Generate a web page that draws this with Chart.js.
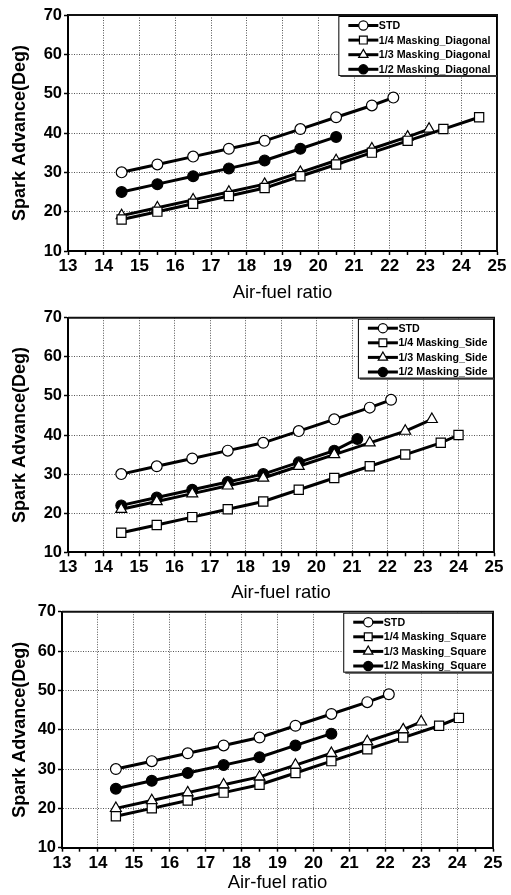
<!DOCTYPE html>
<html>
<head>
<meta charset="utf-8">
<script src="https://cdn.jsdelivr.net/npm/chart.js@4.4.1/dist/chart.umd.min.js"></script>
<style>
  html, body { margin: 0; padding: 0; background: #fff; }
  #wrap { position: relative; width: 511px; height: 895px; overflow: hidden; }
  canvas { position: absolute; left: 0; }
</style>
</head>
<body>
<div id="wrap">
  <canvas id="c1" width="511" height="305" style="top:0px"></canvas>
  <canvas id="c2" width="511" height="310" style="top:295px"></canvas>
  <canvas id="c3" width="511" height="305" style="top:590px"></canvas>
</div>
<script>
// common axis ticks
const xTicks = [13, 14, 15, 16, 17, 18, 19, 20, 21, 22, 23, 24, 25];
const yTicks = [10, 20, 30, 40, 50, 60, 70];

// STD (same in all three panels)
const stdX = [14.5, 15.5, 16.5, 17.5, 18.5, 19.5, 20.5, 21.5, 22.1];
const stdY = [30, 32, 34, 36, 38, 41, 44, 47, 49];

// panel 1 - Diagonal
const diag14X = [14.5, 15.5, 16.5, 17.5, 18.5, 19.5, 20.5, 21.5, 22.5, 23.5, 24.5];
const diag14Y = [18, 20, 22, 24, 26, 29, 32, 35, 38, 41, 44];
const diag13X = [14.5, 15.5, 16.5, 17.5, 18.5, 19.5, 20.5, 21.5, 22.5, 23.1];
const diag13Y = [19, 21, 23, 25, 27, 30, 33, 36, 39, 41];
const diag12X = [14.5, 15.5, 16.5, 17.5, 18.5, 19.5, 20.5];
const diag12Y = [25, 27, 29, 31, 33, 36, 39];

// panel 2 - Side
const side14X = [14.5, 15.5, 16.5, 17.5, 18.5, 19.5, 20.5, 21.5, 22.5, 23.5, 24.0];
const side14Y = [15, 17, 19, 21, 23, 26, 29, 32, 35, 38, 40];
const side13X = [14.5, 15.5, 16.5, 17.5, 18.5, 19.5, 20.5, 21.5, 22.5, 23.25];
const side13Y = [21, 23, 25, 27, 29, 32, 35, 38, 41, 44];
const side12X = [14.5, 15.5, 16.5, 17.5, 18.5, 19.5, 20.5, 21.15];
const side12Y = [22, 24, 26, 28, 30, 33, 36, 39];

// panel 3 - Square
const sq14X = [14.5, 15.5, 16.5, 17.5, 18.5, 19.5, 20.5, 21.5, 22.5, 23.5, 24.05];
const sq14Y = [18, 20, 22, 24, 26, 29, 32, 35, 38, 41, 43];
const sq13X = [14.5, 15.5, 16.5, 17.5, 18.5, 19.5, 20.5, 21.5, 22.5, 23.0];
const sq13Y = [20, 22, 24, 26, 28, 31, 34, 37, 40, 42];
const sq12X = [14.5, 15.5, 16.5, 17.5, 18.5, 19.5, 20.5];
const sq12Y = [25, 27, 29, 31, 33, 36, 39];

const FONT = '"Liberation Sans", Arial, sans-serif';

function pts(xs, ys) {
  return xs.map((x, i) => ({ x: x, y: ys[i] }));
}

function drawMarker(ctx, style, x, y, r, fill) {
  ctx.beginPath();
  if (style === 'rect') {
    const s = r * Math.SQRT1_2;
    ctx.rect(x - s, y - s, 2 * s, 2 * s);
  } else if (style === 'triangle') {
    ctx.moveTo(x, y - r);
    ctx.lineTo(x + r * 0.866, y + r / 2);
    ctx.lineTo(x - r * 0.866, y + r / 2);
    ctx.closePath();
  } else {
    ctx.arc(x, y, r, 0, Math.PI * 2);
  }
  ctx.fillStyle = fill;
  ctx.fill();
  ctx.lineWidth = 1.2;
  ctx.strokeStyle = '#000';
  ctx.stroke();
}

function isMajor(list, v) {
  return list.some(t => Math.abs(t - v) < 1e-6);
}

// top/right frame and the boxed legend inside the plot
const frameLegend = {
  id: 'frameLegend',
  afterDraw(chart) {
    const ctx = chart.ctx, a = chart.chartArea;
    ctx.save();
    ctx.strokeStyle = '#111';
    ctx.lineWidth = 2;
    ctx.beginPath();
    ctx.moveTo(a.left, a.top);
    ctx.lineTo(a.right, a.top);
    ctx.lineTo(a.right, a.bottom);
    ctx.stroke();

    const sets = chart.data.datasets;
    ctx.font = 'bold 10.7px ' + FONT;
    let tw = 0;
    sets.forEach(d => { tw = Math.max(tw, ctx.measureText(d.label).width); });
    const w = 40 + tw + 7, h = 60;
    const x0 = a.right - w, y0 = a.top + 1;
    ctx.fillStyle = '#fff';
    ctx.fillRect(x0, y0, w, h);
    ctx.lineWidth = 1;
    ctx.strokeStyle = '#000';
    ctx.strokeRect(x0 + 0.5, y0 + 0.5, w - 1, h - 1);
    ctx.fillStyle = '#333';
    ctx.fillRect(x0 + 2, y0 + h - 1, w - 2, 2);

    sets.forEach((d, i) => {
      const cy = y0 + 9.5 + i * 14.6;
      ctx.strokeStyle = '#000';
      ctx.lineWidth = 3;
      ctx.beginPath();
      ctx.moveTo(x0 + 10, cy);
      ctx.lineTo(x0 + 40, cy);
      ctx.stroke();
      drawMarker(ctx, d.pointStyle, x0 + 25, cy, d.pointRadius * 0.85, d.pointBackgroundColor);
      ctx.fillStyle = '#000';
      ctx.textBaseline = 'middle';
      ctx.textAlign = 'left';
      ctx.fillText(d.label, x0 + 40.5, cy + 0.5);
    });
    ctx.restore();
  }
};

function series(label, data, style, r, fill) {
  return {
    label: label,
    data: data,
    borderColor: '#000',
    borderWidth: 3,
    pointStyle: style,
    pointRadius: r,
    pointBorderWidth: 1.2,
    pointBorderColor: '#000',
    pointBackgroundColor: fill,
    tension: 0,
    fill: false
  };
}

function makeChart(id, area, sets) {
  const cv = document.getElementById(id);
  const H = cv.height;
  const xMin = xTicks[0], xMax = xTicks[xTicks.length - 1];
  const yMin = yTicks[0], yMax = yTicks[yTicks.length - 1];
  const gridColor = (list, lo, hi) => c => {
    const v = c.tick ? c.tick.value : NaN;
    return (isMajor(list, v) && v > lo && v < hi) ? '#555555' : 'rgba(255,255,255,0)';
  };
  return new Chart(cv.getContext('2d'), {
    type: 'line',
    data: { datasets: sets },
    options: {
      responsive: false,
      animation: false,
      layout: { padding: { top: area.top, right: 511 - area.right, left: 0, bottom: 0 } },
      plugins: { legend: { display: false }, tooltip: { enabled: false } },
      scales: {
        x: {
          type: 'linear',
          min: xMin, max: xMax,
          afterFit(s) { s.height = H - area.bottom; },
          ticks: {
            stepSize: 0.5,
            autoSkip: false,
            maxRotation: 0,
            padding: 1,
            color: '#000',
            font: { family: FONT, size: 17, weight: 'bold' },
            callback: v => (isMajor(xTicks, v) ? String(Math.round(v)) : '')
          },
          grid: {
            display: true,
            drawOnChartArea: true,
            color: gridColor(xTicks, xMin, xMax),
            lineWidth: 1,
            tickLength: 4,
            tickWidth: 1.5,
            tickColor: '#000'
          },
          border: { color: '#000', width: 2, dash: [1, 1.5] },
          title: {
            display: true,
            text: 'Air-fuel ratio',
            color: '#000',
            font: { family: FONT, size: 18.5 },
            padding: { top: 0, bottom: 1 }
          }
        },
        y: {
          min: yMin, max: yMax,
          afterFit(s) { s.width = area.left; },
          ticks: {
            stepSize: 5,
            padding: 2,
            color: '#000',
            font: { family: FONT, size: 16.5, weight: 'bold' },
            callback: v => (isMajor(yTicks, v) ? String(Math.round(v)) : '')
          },
          grid: {
            display: true,
            drawOnChartArea: true,
            color: gridColor(yTicks, yMin, yMax),
            lineWidth: 1,
            tickLength: 4,
            tickWidth: 1.5,
            tickColor: '#000'
          },
          border: { color: '#000', width: 2, dash: [1, 1.5] },
          title: {
            display: true,
            text: 'Spark Advance(Deg)',
            color: '#000',
            font: { family: FONT, size: 18, weight: 'bold' },
            padding: { top: 9, bottom: 0 }
          }
        }
      }
    },
    plugins: [frameLegend]
  });
}

makeChart('c1', { top: 15, left: 68, right: 497, bottom: 251 }, [
  series('STD', pts(stdX, stdY), 'circle', 5.4, '#fff'),
  series('1/4 Masking_Diagonal', pts(diag14X, diag14Y), 'rect', 6.5, '#fff'),
  series('1/3 Masking_Diagonal', pts(diag13X, diag13Y), 'triangle', 6.3, '#fff'),
  series('1/2 Masking_Diagonal', pts(diag12X, diag12Y), 'circle', 5.4, '#000')
]);

makeChart('c2', { top: 22.7, left: 68, right: 494, bottom: 257.3 }, [
  series('STD', pts(stdX, stdY), 'circle', 5.4, '#fff'),
  series('1/4 Masking_Side', pts(side14X, side14Y), 'rect', 6.5, '#fff'),
  series('1/3 Masking_Side', pts(side13X, side13Y), 'triangle', 6.3, '#fff'),
  series('1/2 Masking_Side', pts(side12X, side12Y), 'circle', 5.4, '#000')
]);

makeChart('c3', { top: 21.7, left: 62, right: 493, bottom: 257.7 }, [
  series('STD', pts(stdX, stdY), 'circle', 5.4, '#fff'),
  series('1/4 Masking_Square', pts(sq14X, sq14Y), 'rect', 6.5, '#fff'),
  series('1/3 Masking_Square', pts(sq13X, sq13Y), 'triangle', 6.3, '#fff'),
  series('1/2 Masking_Square', pts(sq12X, sq12Y), 'circle', 5.4, '#000')
]);
</script>
</body>
</html>
